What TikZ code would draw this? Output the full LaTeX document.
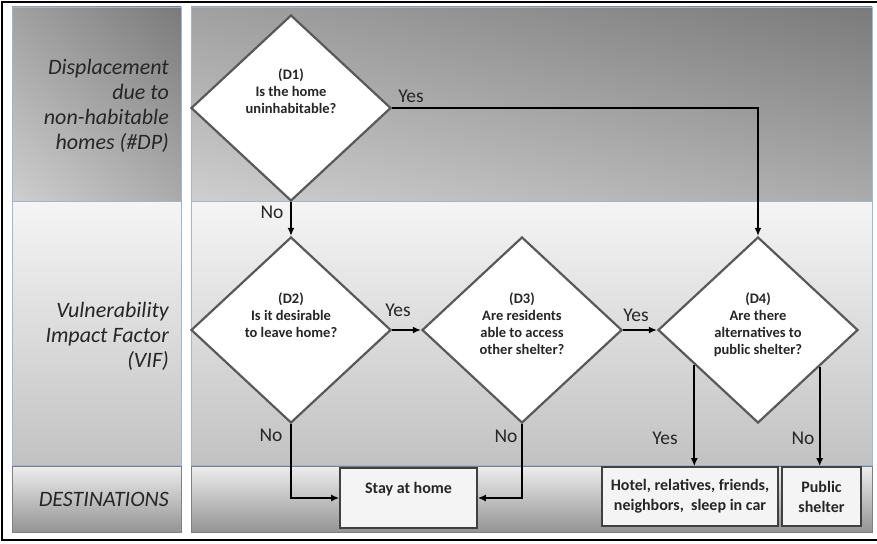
\documentclass[tikz,border=0pt]{standalone}
\usepackage{fontspec}
\setmainfont{Carlito}
\usetikzlibrary{positioning,shapes.geometric,arrows.meta,calc,shadings}

\definecolor{edgegray}{HTML}{595959}
\definecolor{txtgray}{HTML}{262626}
\definecolor{cellblue}{HTML}{A3B5CE}
\definecolor{boxfill}{HTML}{F4F4F4}

\tikzset{
  decision/.style={diamond, draw=edgegray, line width=2.2pt, fill=white,
    minimum width=200pt, minimum height=186pt, inner sep=0pt},
  question/.style={font=\fontsize{14.5}{17}\selectfont\bfseries, text=txtgray,
    align=center, anchor=north, inner sep=0pt},
  dest/.style={draw=black!75, line width=1.6pt, fill=boxfill, text=txtgray,
    font=\fontsize{16}{20}\selectfont\bfseries, align=center, inner sep=0pt},
  answer/.style={font=\fontsize{19.5}{22}\selectfont, text=txtgray},
  rowlabel/.style={font=\fontsize{22}{25}\selectfont\itshape, text=txtgray,
    align=right, anchor=east, inner sep=0pt},
  flow/.style={-{Latex[length=8pt,width=7pt]}, line width=2pt},
}

\begin{document}
\begin{tikzpicture}[x=1pt,y=-1pt]

\useasboundingbox (0,0) rectangle (877,543);

% --- Frame ---
\draw[line width=2.4pt] (877,2) -| (2,540) -- (877,540);

% --- Swim lanes ---
\foreach \xa/\xb in {12/181, 191/872} {
    \shade[upper left=black!37, upper right=black!52, lower left=black!19,
           lower right=black!33, draw=cellblue, line width=0.9pt]
        (\xa,7) rectangle (\xb,201);
    \shade[top color=black!4, bottom color=black!24, draw=cellblue, line width=0.9pt]
        (\xa,201) rectangle (\xb,465);
    \shade[top color=black!7, bottom color=black!42, draw=black!50, line width=0.9pt]
        (\xa,466) rectangle (\xb,532);
}

% --- Lane titles ---
\node[rowlabel] (dp) at (169,106) {Displacement\\due to\\non-habitable\\homes (\#DP)};
\node[rowlabel] (vif) at (169,336) {Vulnerability\\Impact Factor\\(VIF)};
\node[rowlabel] (dst) at (169,499) {DESTINATIONS};

% --- Decisions ---
\node[decision] (d1) at (291,108) {};
\node[decision] (d2) at (291,330) {};
\node[decision] (d3) at (522,330) {};
\node[decision] (d4) at (758,330) {};

\node[question] (q1) at ([yshift=39pt]d1.center) {(D1)\\Is the home\\uninhabitable?};
\node[question] (q2) at ([yshift=37pt]d2.center) {(D2)\\Is it desirable\\to leave home?};
\node[question] (q3) at ([yshift=37pt]d3.center) {(D3)\\Are residents\\able to access\\other shelter?};
\node[question] (q4) at ([yshift=37pt]d4.center) {(D4)\\Are there\\alternatives to\\public shelter?};

% --- Destinations ---
\node[dest, minimum width=137pt, minimum height=60pt] (stay) at (408.5,498) {Stay at home\\ \mbox{}};
\node[dest, minimum width=176pt, minimum height=59pt] (hotel) at (690,496.5)
    {Hotel, relatives, friends,\\neighbors,\ \ sleep in car};
\node[dest, minimum width=79pt, minimum height=59pt] (public) at (821.5,496.5) {Public\\shelter};

% --- Flow ---
\draw[flow] (d1.east) -| (d4.north);
\draw[flow] (d1.south) -- (d2.north);
\draw[flow] (d2.east) -- (d3.west);
\draw[flow] (d3.east) -- (d4.west);
\draw[flow] (d2.south) |- (stay.west);
\draw[flow] (d3.south) |- (stay.east);
\coordinate (d4yes) at ($(d4.west)!0.37!(d4.south)$);
\coordinate (d4no) at ($(d4.south)!0.61!(d4.east)$);
\draw[flow] (d4yes) -- (d4yes |- hotel.north);
\draw[flow] (d4no) -- (d4no |- public.north);

% --- Answers ---
\node[answer] (y1) at (411,96) {Yes};
\node[answer] (n1) at (272,212) {No};
\node[answer] (y2) at (398,310) {Yes};
\node[answer] (y3) at (636,315) {Yes};
\node[answer] (n2) at (271,435) {No};
\node[answer] (n3) at (506,436) {No};
\node[answer] (y4) at (665,438) {Yes};
\node[answer] (n4) at (803,438) {No};

\end{tikzpicture}
\end{document}
